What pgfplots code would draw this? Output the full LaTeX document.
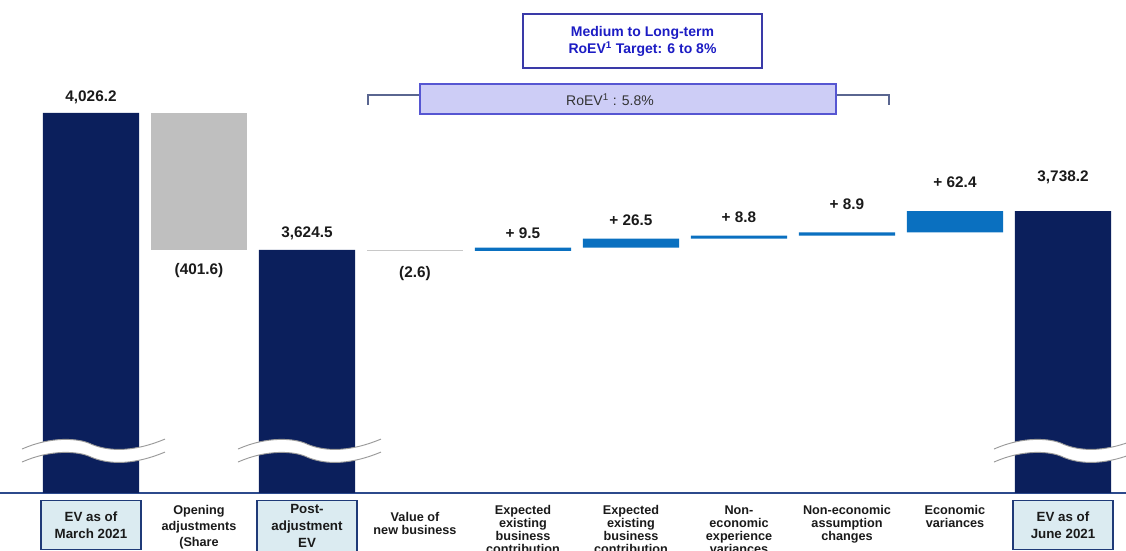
\documentclass[border=0pt]{standalone}
\usepackage{pgfplots}
\pgfplotsset{compat=1.18}
\usepackage{fontspec}
\setmainfont{Liberation Sans}

\definecolor{evnavy}{HTML}{0B1F5C}
\definecolor{adjgray}{HTML}{BFBFBF}
\definecolor{smallgray}{HTML}{C8C8C8}
\definecolor{incblue}{HTML}{0A70C0}
\definecolor{axisblue}{HTML}{2C4A8C}
\definecolor{boxfill}{HTML}{DBEBF1}
\definecolor{boxedge}{HTML}{1F3A78}
\definecolor{targetblue}{HTML}{1C1CC4}
\definecolor{targetedge}{HTML}{3A3AA8}
\definecolor{roevfill}{HTML}{CDCDF6}
\definecolor{roevedge}{HTML}{5656D2}
\definecolor{bracketgray}{HTML}{5A6690}
\definecolor{breakgray}{HTML}{9A9A9A}
\definecolor{labelink}{HTML}{1A1A1A}

\tikzset{
  vallabel/.style={font=\bfseries\fontsize{11.5}{13}\selectfont, text=labelink},
  brk/.style={x=0.75pt, y=-0.75pt},
}
% upper and lower edges of the wavy axis break (units: 0.75pt, y downwards)
\newcommand{\brkupper}{(-69,-3) .. controls (-40,-16) and (-12,-14) .. (0,-8)
            .. controls (14,-2) and (38,2) .. (74,-13)}
\newcommand{\brklower}{(74,0) .. controls (38,15) and (14,11) .. (0,5)
            .. controls (-12,-1) and (-40,-3) .. (-69,10)}

\begin{document}
\begin{tikzpicture}
\useasboundingbox (0,0) rectangle (844.5pt,412.5pt);
\clip (0,0) rectangle (844.5pt,412.5pt);
\begin{axis}[
  at={(0pt,42.75pt)}, anchor=south west,
  scale only axis, width=844.5pt, height=369.75pt,
  xmin=-0.8426, xmax=9.5833, ymin=2912, ymax=4357,
  ybar stacked, bar width=0.89,
  hide y axis,
  axis x line*=bottom,
  x axis line style={draw=axisblue, line width=1.4pt, -},
  major tick length=0pt,
  xtick={1,3,4,5,6,7,8},
  xticklabels={
    {Opening\\[2.2pt]adjustments\\[2.2pt](Share\\[2.2pt]buyback)},
    {\rule{0pt}{11.5pt}Value of\\new business},
    {Expected\\existing\\business\\contribution},
    {Expected\\existing\\business\\contribution},
    {Non-\\economic\\experience\\variances},
    {Non-economic\\assumption\\changes},
    {Economic\\variances}},
  xticklabel style={font=\bfseries\fontsize{9.5}{9.75}\selectfont, text=labelink,
    align=center, anchor=north, yshift=-6pt},
  extra x ticks={0,2,9},
  extra x tick labels={
    {EV as of\\March 2021},
    {Post-\\adjustment\\EV},
    {EV as of\\June 2021}},
  extra x tick style={xticklabel style={draw=boxedge, fill=boxfill,
    line width=1pt, minimum width=75pt, minimum height=37pt,
    font=\bfseries\fontsize{10}{12.5}\selectfont, yshift=1pt}},
]
% invisible base of each floating bar
\addplot[draw=none, fill=none, forget plot] coordinates {
  (0,0) (1,3624.6) (2,0) (3,3621.9) (4,3621.9) (5,3631.4)
  (6,3657.9) (7,3666.7) (8,3675.6) (9,0)};
% embedded value totals
\addplot[draw=none, fill=evnavy] coordinates {
  (0,4026.2) (1,0) (2,3624.5) (3,0) (4,0) (5,0) (6,0) (7,0) (8,0) (9,3738.2)};
% opening adjustments
\addplot[draw=none, fill=adjgray] coordinates {
  (0,0) (1,401.6) (2,0) (3,0) (4,0) (5,0) (6,0) (7,0) (8,0) (9,0)};
% value of new business
\addplot[draw=none, fill=smallgray] coordinates {
  (0,0) (1,0) (2,0) (3,2.6) (4,0) (5,0) (6,0) (7,0) (8,0) (9,0)};
% positive movements
\addplot[draw=none, fill=incblue] coordinates {
  (0,0) (1,0) (2,0) (3,0) (4,9.5) (5,26.5) (6,8.8) (7,8.9) (8,62.4) (9,0)};

% value labels
\node[vallabel] at (axis cs:0,4026.2) [yshift=12pt] {4,026.2};
\node[vallabel] at (axis cs:1,3624.6) [yshift=-15.75pt] {(401.6)};
\node[vallabel] at (axis cs:2,3624.5) [yshift=12.75pt] {3,624.5};
\node[vallabel] at (axis cs:3,3621.9) [yshift=-17pt] {(2.6)};
\node[vallabel] at (axis cs:4,3631.4) [yshift=11pt] {+ 9.5};
\node[vallabel] at (axis cs:5,3657.9) [yshift=13.5pt] {+ 26.5};
\node[vallabel] at (axis cs:6,3666.7) [yshift=13.5pt] {+ 8.8};
\node[vallabel] at (axis cs:7,3675.6) [yshift=21.5pt] {+ 8.9};
\node[vallabel] at (axis cs:8,3738.0) [yshift=22pt] {+ 62.4};
\node[vallabel] at (axis cs:9,3738.2) [yshift=25pt] {3,738.2};

% anchor points of the axis breaks
\coordinate (brk0) at (axis cs:0,3032);
\coordinate (brk2) at (axis cs:2,3032);
\coordinate (brk9) at (axis cs:9,3032);
\end{axis}

% wavy axis breaks across the truncated bars
\foreach \b in {brk0,brk2,brk9}{
  \fill[white, shift={(\b)}, brk] \brkupper -- \brklower -- cycle;
  \draw[breakgray, line width=0.7pt, shift={(\b)}, brk] \brkupper;
  \draw[breakgray, line width=0.7pt, shift={(\b)}, brk] \brklower;
}

% return-on-EV annotations above the movements
\begin{scope}[x=0.75pt, y=-0.75pt, yshift=412.5pt]
  \draw[targetedge, line width=0.9pt, fill=white] (523,14) rectangle (762,68);
  \node[text=targetblue, font=\bfseries\fontsize{10.5}{12.5}\selectfont, align=center]
    at (642.5,41.5) {Medium to Long-term\\RoEV\textsuperscript{1} Target: 6 to 8\%};
  \draw[bracketgray, line width=0.8pt] (368,105) -- (368,95) -- (889,95) -- (889,105);
  \draw[roevedge, line width=0.9pt, fill=roevfill] (420,84) rectangle (836,114);
  \node[text=black!80, font=\fontsize{10.5}{12}\selectfont] at (610,99.5)
    {RoEV\textsuperscript{1} : 5.8\%};
\end{scope}
\end{tikzpicture}
\end{document}
